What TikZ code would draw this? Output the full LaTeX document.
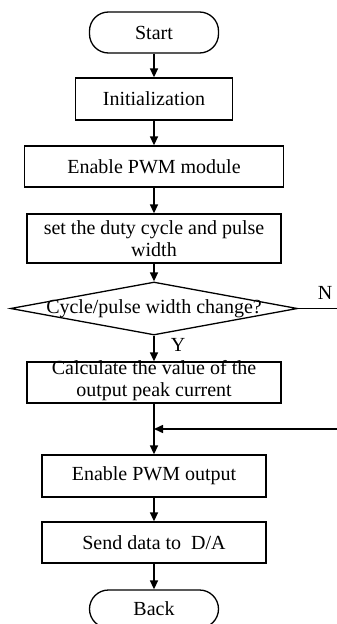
\documentclass[tikz,border=0pt]{standalone}
\usepackage{fontspec}
\setmainfont{Liberation Serif}
\usetikzlibrary{shapes.geometric,arrows.meta}
\begin{document}
\begin{tikzpicture}[x=1pt,y=-1pt,
  every node/.style={font=\fontsize{20}{22}\selectfont, inner sep=0pt, align=center},
  box/.style={draw, line width=1.3pt},
  term/.style={draw, line width=1.3pt, rounded corners=19pt},
  dec/.style={draw, line width=1.3pt, diamond, shape aspect=5},
  arr/.style={line width=1.5pt, -{Triangle[width=8pt,length=9pt]}},
  ln/.style={line width=1.5pt}]
\useasboundingbox (0,0) rectangle (337,624);
\node[term, minimum width=129pt, minimum height=41pt] (start) at (154,32.5) {Start};
\node[box, minimum width=157pt, minimum height=42pt] (init) at (154,99) {Initialization};
\node[box, minimum width=259pt, minimum height=41pt] (pwm) at (154,166.5) {Enable PWM module};
\node[box, minimum width=254pt, minimum height=49pt] (duty) at (154,238.5) {set the duty cycle and pulse\\width};
\node[dec, minimum width=287pt, minimum height=53pt] (chg) at (154,308.5) {};
\node (chgtext) at (chg.center) {Cycle/pulse width change?};
\node[box, minimum width=254pt, minimum height=41pt] (calc) at (154,382.5) {};
\node (calctext) at ([yshift=2pt]calc.center) {Calculate the value of the\\output peak current};
\node[box, minimum width=224pt, minimum height=42pt] (out) at (154,476) {Enable PWM output};
\node[box, minimum width=224pt, minimum height=41pt] (send) at (154,542.5) {Send data to \ D/A};
\node[term, minimum width=129pt, minimum height=38pt] (back) at (154,609) {Back};
\coordinate (j) at (154,429);
\coordinate (nend) at (337,308.5);
\coordinate (rin) at (337,429);
\node (nlab) at (325,293) {N};
\node (ylab) at (178,345) {Y};
\draw[arr] (start) -- (init);
\draw[arr] (init) -- (pwm);
\draw[arr] (pwm) -- (duty);
\draw[arr] (duty) -- (chg);
\draw[arr] (chg) -- (calc);
\draw[ln] (chg.east) -- (nend);
\draw[ln] (calc) -- (j);
\draw[arr] (rin) -- (j);
\draw[arr] (j) -- (out);
\draw[arr] (out) -- (send);
\draw[arr] (send) -- (back);
\end{tikzpicture}
\end{document}
